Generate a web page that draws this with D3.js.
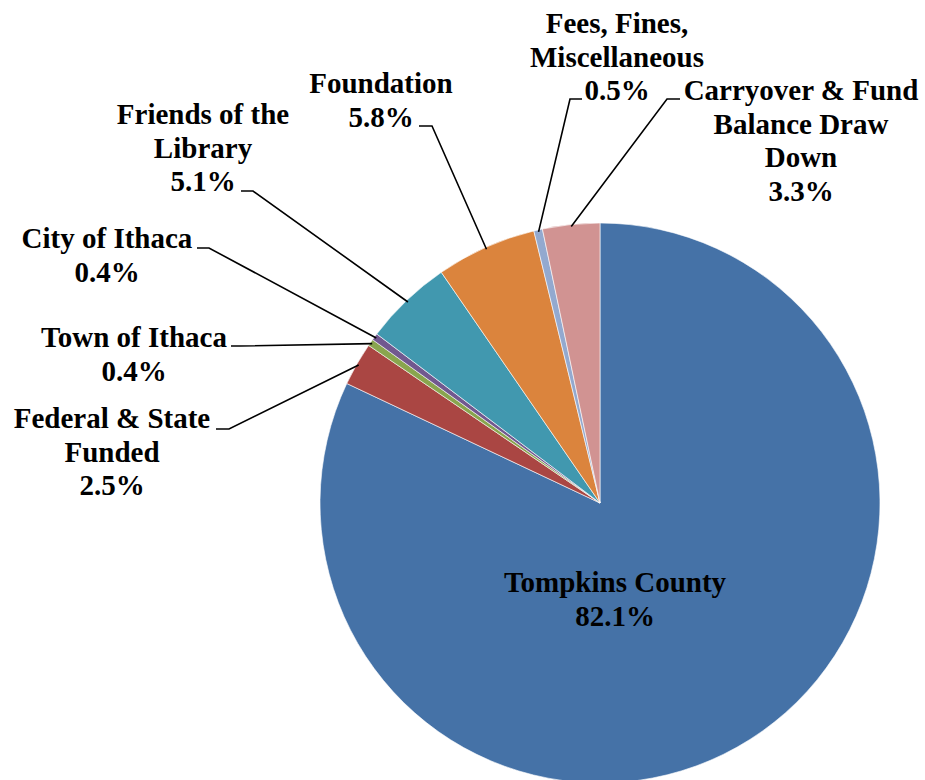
<!DOCTYPE html>
<html>
<head>
<meta charset="utf-8">
<script src="https://cdn.jsdelivr.net/npm/d3@7"></script>
<style>
  body { margin: 0; background: #fff; }
</style>
</head>
<body>
<script>
// slice data, clockwise from 12 o'clock
var categories = ["Tompkins County", "Federal & State Funded", "Town of Ithaca", "City of Ithaca",
                  "Friends of the Library", "Foundation", "Fees, Fines, Miscellaneous", "Carryover & Fund Balance Draw Down"];
var values = [82.1, 2.5, 0.4, 0.4, 5.1, 5.8, 0.5, 3.3];
var colors = ["#4572A7", "#AA4643", "#89A54E", "#71588F", "#4198AF", "#DB843D", "#93A9CF", "#D19392"];

// how each label is broken into lines (the percentage goes on the last line)
var labelLines = [
  ["Tompkins County"],
  ["Federal & State", "Funded"],
  ["Town of Ithaca"],
  ["City of Ithaca"],
  ["Friends of the", "Library"],
  ["Foundation"],
  ["Fees, Fines,", "Miscellaneous"],
  ["Carryover & Fund", "Balance Draw", "Down"]
];

// label layout: centre x, first baseline, hook of the leader line (null = label inside slice)
var labelLayout = [
  {x: 615, y: 592, hook: null},
  {x: 112, y: 428, hook: [[216, 429], [229, 429]]},
  {x: 134, y: 347, hook: [[231, 346], [240, 346]]},
  {x: 107, y: 248, hook: [[197, 248], [209, 248]]},
  {x: 203, y: 124, hook: [[241, 191], [253, 191]]},
  {x: 381, y: 93,  hook: [[419, 126], [432, 126]]},
  {x: 617, y: 33,  hook: [[582, 99], [570, 99]]},
  {x: 801, y: 100, hook: [[680, 99], [667, 99]]}
];

var width = 925, height = 780;
var cx = 600, cy = 503, radius = 280, lineGap = 33.5;

var svg = d3.select("body").append("svg").attr("width", width).attr("height", height);

var pie = d3.pie().sort(null).value(function(d){ return d; });
var arcs = pie(values);

var arc = d3.arc().innerRadius(0).outerRadius(radius);
var edge = d3.arc().innerRadius(radius - 2).outerRadius(radius - 2);

var g = svg.append("g").attr("transform", "translate(" + cx + "," + cy + ")");

g.selectAll("path.slice").data(arcs).enter().append("path")
  .attr("class", "slice")
  .attr("d", arc)
  .attr("fill", function(d,i){ return colors[i]; })
  .attr("stroke", "#fff")
  .attr("stroke-width", 0.6);

// leader lines
arcs.forEach(function(d, i){
  var lay = labelLayout[i];
  if (!lay.hook) return;
  var p = edge.centroid(d);
  var pts = [lay.hook[0], lay.hook[1], [cx + p[0], cy + p[1]]];
  svg.append("path")
    .attr("d", d3.line()(pts))
    .attr("fill", "none")
    .attr("stroke", "#000")
    .attr("stroke-width", 1.6);
});

// labels
arcs.forEach(function(d, i){
  var lay = labelLayout[i];
  var lines = labelLines[i].concat([values[i].toFixed(1) + "%"]);
  var t = svg.append("text")
    .attr("text-anchor", "middle")
    .attr("font-family", "Liberation Serif")
    .attr("font-weight", "bold")
    .attr("font-size", 29)
    .attr("fill", "#000");
  lines.forEach(function(s, k){
    t.append("tspan").attr("x", lay.x).attr("y", lay.y + k * lineGap).text(s);
  });
});
</script>
</body>
</html>
